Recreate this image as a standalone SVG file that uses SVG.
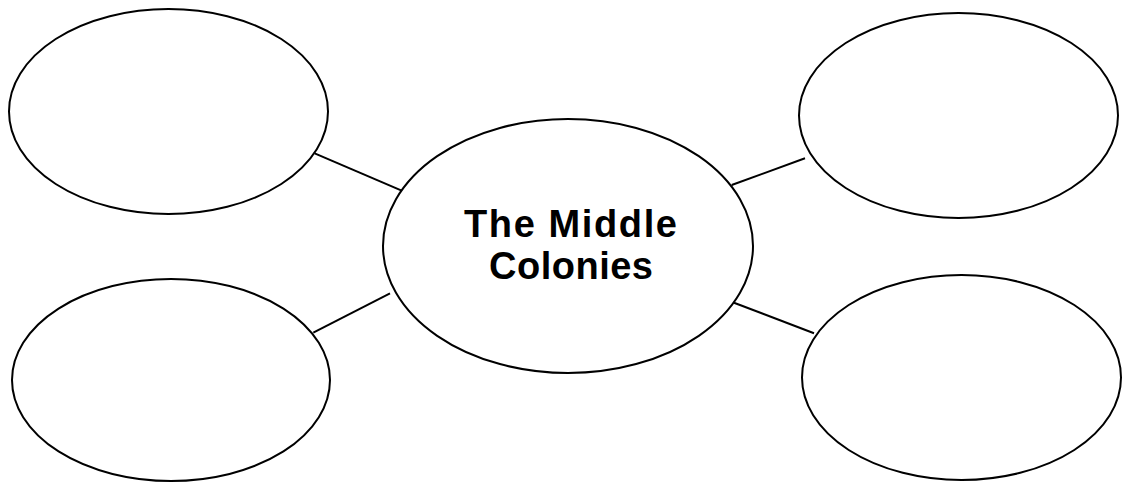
<svg xmlns="http://www.w3.org/2000/svg" width="1123" height="483" viewBox="0 0 1123 483">
<style>
.node{fill:#fff;stroke:#000;stroke-width:2}
.conn{stroke:#000;stroke-width:2;fill:none}
.title{font-family:"Liberation Sans",Arial,sans-serif;font-weight:bold;font-size:38px;fill:#000;text-anchor:middle}
</style>
<rect width="1123" height="483" fill="#fff"/>
<g id="connectors">
<line class="conn" x1="314.7" y1="153.3" x2="401.7" y2="190.7"/>
<line class="conn" x1="313.3" y1="332.7" x2="390" y2="293.3"/>
<line class="conn" x1="731.7" y1="185" x2="805" y2="158.3"/>
<line class="conn" x1="734" y1="302.7" x2="814" y2="333.3"/>
</g>
<g id="node-top-left"><ellipse class="node" cx="168.5" cy="111.5" rx="159.5" ry="102.5"/></g>
<g id="node-bottom-left"><ellipse class="node" cx="171" cy="380" rx="159" ry="101"/></g>
<g id="node-top-right"><ellipse class="node" cx="958.5" cy="115.5" rx="159.5" ry="102.5"/></g>
<g id="node-bottom-right"><ellipse class="node" cx="961.5" cy="377.5" rx="159.5" ry="102.5"/></g>
<g id="node-center">
<ellipse class="node" cx="568" cy="246" rx="185" ry="127"/>
<text class="title" x="570.5" y="237" textLength="213" lengthAdjust="spacing">The Middle</text>
<text class="title" x="571" y="278.5" textLength="164" lengthAdjust="spacing">Colonies</text>
</g>
</svg>
